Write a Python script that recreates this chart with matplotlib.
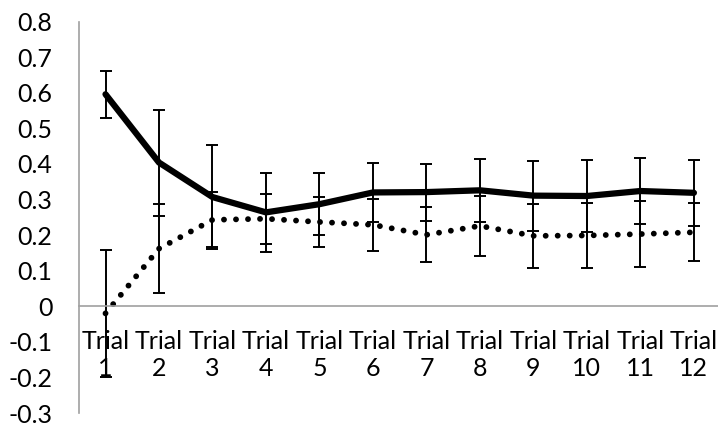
import numpy as np
import matplotlib.pyplot as plt

plt.rcParams['font.family'] = ['Lato', 'DejaVu Sans']

# values
trials = ['Trial\n1', 'Trial\n2', 'Trial\n3', 'Trial\n4', 'Trial\n5', 'Trial\n6',
          'Trial\n7', 'Trial\n8', 'Trial\n9', 'Trial\n10', 'Trial\n11', 'Trial\n12']
solid = [0.596, 0.404, 0.307, 0.264, 0.287, 0.320, 0.321, 0.326, 0.311, 0.310, 0.324, 0.319]
solid_err = [0.066, 0.149, 0.145, 0.111, 0.088, 0.082, 0.080, 0.088, 0.098, 0.101, 0.093, 0.092]
dotted = [-0.020, 0.162, 0.243, 0.246, 0.237, 0.229, 0.201, 0.226, 0.198, 0.199, 0.203, 0.208]
dotted_err = [0.178, 0.126, 0.077, 0.070, 0.071, 0.073, 0.077, 0.085, 0.090, 0.091, 0.092, 0.081]
yticks = np.round(np.arange(-0.3, 0.81, 0.1), 1)

x = np.arange(1, len(trials) + 1)

fig = plt.figure(figsize=(7.18, 4.25), dpi=100)
ax = fig.add_axes([0.1097, 0.0282, 0.894, 0.9208])

ax.errorbar(x, dotted, yerr=dotted_err, color='black', lw=4.2, ls=(0, (0.01, 2.05)),
            dash_capstyle='round', ecolor='black', elinewidth=1.4, capsize=4.5, capthick=1.4)
ax.errorbar(x, solid, yerr=solid_err, color='black', lw=4.5, ecolor='black',
            elinewidth=1.4, capsize=4.5, capthick=1.4, solid_capstyle='round')

ax.set_xlim(0.5, 12.5)
ax.set_ylim(-0.3, 0.8)
ax.set_yticks(yticks)
ax.set_yticklabels(['0' if v == 0 else f'{v:.1f}' for v in yticks])
ax.set_xticks(x)
ax.set_xticklabels(trials, linespacing=1.45)

for s in ['top', 'right']:
    ax.spines[s].set_visible(False)
ax.spines['left'].set_color('#a0a0a0')
ax.spines['bottom'].set_color('#a0a0a0')
ax.spines['bottom'].set_position(('data', 0))
ax.spines['left'].set_linewidth(1.2)
ax.spines['bottom'].set_linewidth(1.2)
ax.tick_params(axis='both', length=0, labelsize=18, colors='black')
ax.tick_params(axis='y', pad=19)
ax.tick_params(axis='x', pad=17)
ax.set_facecolor('none')

fig.savefig('out.png', dpi=100)
